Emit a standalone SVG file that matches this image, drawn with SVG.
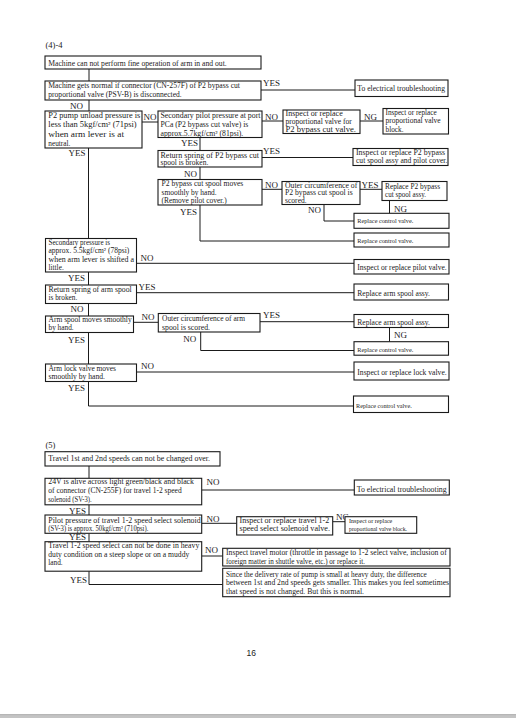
<svg xmlns="http://www.w3.org/2000/svg" width="516" height="718" viewBox="0 0 516 718">
<style>
  .bg{fill:#ffffff}
  .box{fill:#ffffff;stroke:#1a1a1a;stroke-width:1.1}
  .t{font-family:"Liberation Serif","Times New Roman",serif;font-size:7.3px;fill:#1a1a1a}
  .s{font-size:6.1px}
  .m{font-size:6.6px}
  .lbl{font-family:"Liberation Serif","Times New Roman",serif;font-size:9px;fill:#1a1a1a}
  .hd{font-family:"Liberation Serif","Times New Roman",serif;font-size:8.5px;fill:#1a1a1a}
  .pg{font-family:"Liberation Sans",Arial,sans-serif;font-size:8.5px;fill:#222}
  .ln{fill:none;stroke:#1a1a1a;stroke-width:1}
</style>
<rect class="bg" x="0" y="0" width="516" height="718"/>
<text class="hd" x="45.5" y="48">(4)-4</text>
<text class="hd" x="45.5" y="447.5">(5)</text>

<g id="connectors">
  <path class="ln" d="M89,69 V81"/>
  <path class="ln" d="M261,90 H355"/>
  <path class="ln" d="M89,100 V111"/>
  <path class="ln" d="M142,122 H158"/>
  <path class="ln" d="M262,121 H283"/>
  <path class="ln" d="M360,121 H383"/>
  <path class="ln" d="M200,137.5 V150.5"/>
  <path class="ln" d="M262,157.5 H353"/>
  <path class="ln" d="M200,167 V179.5"/>
  <path class="ln" d="M262,189.3 H282"/>
  <path class="ln" d="M360,189.3 H382"/>
  <path class="ln" d="M389.5,200.5 V213.3"/>
  <path class="ln" d="M324,204.5 V221 H354"/>
  <path class="ln" d="M200,205 V241 H354"/>
  <path class="ln" d="M88.5,148 V238.5"/>
  <path class="ln" d="M136.5,263.3 H354"/>
  <path class="ln" d="M88.5,272 V285"/>
  <path class="ln" d="M136.5,292.7 H354"/>
  <path class="ln" d="M88.5,303.5 V316"/>
  <path class="ln" d="M133.5,322.3 H158.3"/>
  <path class="ln" d="M260,321.7 H354"/>
  <path class="ln" d="M389.5,327.5 V341.7"/>
  <path class="ln" d="M200.7,332 V350.5 H354"/>
  <path class="ln" d="M88.5,332.5 V364"/>
  <path class="ln" d="M136.5,372 H354"/>
  <path class="ln" d="M88.5,381.5 V406 H353.5"/>

  <path class="ln" d="M89,466 V478.3"/>
  <path class="ln" d="M201.7,490 H354.3"/>
  <path class="ln" d="M89,504.8 V515"/>
  <path class="ln" d="M201.7,523.3 H236.7"/>
  <path class="ln" d="M332.7,521.7 H345"/>
  <path class="ln" d="M89,533.3 V541.7"/>
  <path class="ln" d="M201.7,556 H222.7"/>
  <path class="ln" d="M89,571.2 V584.5 H222.7"/>
</g>

<g id="labels">
  <text class="lbl" x="263" y="86">YES</text>
  <text class="lbl" x="70" y="108.5">NO</text>
  <text class="lbl" x="143.5" y="120">NO</text>
  <text class="lbl" x="265" y="119.5">NO</text>
  <text class="lbl" x="364" y="119.5">NG</text>
  <text class="lbl" x="181" y="146">YES</text>
  <text class="lbl" x="68.5" y="155.5">YES</text>
  <text class="lbl" x="263" y="153.5">YES</text>
  <text class="lbl" x="184" y="176.5">NO</text>
  <text class="lbl" x="265" y="187.8">NO</text>
  <text class="lbl" x="361.5" y="187.5">YES</text>
  <text class="lbl" x="394" y="211.5">NG</text>
  <text class="lbl" x="308" y="212.5">NO</text>
  <text class="lbl" x="180" y="215">YES</text>
  <text class="lbl" x="140.5" y="260.5">NO</text>
  <text class="lbl" x="68" y="281">YES</text>
  <text class="lbl" x="138.5" y="290">YES</text>
  <text class="lbl" x="70.5" y="312">NO</text>
  <text class="lbl" x="141.5" y="320">NO</text>
  <text class="lbl" x="263" y="318.3">YES</text>
  <text class="lbl" x="394" y="338.3">NG</text>
  <text class="lbl" x="183.3" y="341.7">NO</text>
  <text class="lbl" x="68" y="342.5">YES</text>
  <text class="lbl" x="141" y="369.3">NO</text>
  <text class="lbl" x="68" y="391">YES</text>

  <text class="lbl" x="206.5" y="484.5">NO</text>
  <text class="lbl" x="69" y="514">YES</text>
  <text class="lbl" x="206.5" y="521.5">NO</text>
  <text class="lbl" x="336" y="520">NG</text>
  <text class="lbl" x="69" y="540">YES</text>
  <text class="lbl" x="205" y="553">NO</text>
  <text class="lbl" x="70" y="583.3">YES</text>
</g>

<g id="b1"><rect class="box" x="45" y="56" width="216" height="13"/>
  <text class="t" x="48.3" y="65.5" textLength="178.4" lengthAdjust="spacingAndGlyphs">Machine can not perform fine operation of arm in and out.</text></g>
<g id="b2"><rect class="box" x="45" y="81" width="216" height="19"/>
  <text class="t" x="48.3" y="88" textLength="191.7" lengthAdjust="spacingAndGlyphs">Machine gets normal if connector (CN-257F) of P2 bypass cut</text>
  <text class="t" x="48.3" y="97.3" textLength="133.4" lengthAdjust="spacingAndGlyphs">proportional valve (PSV-B) is disconnected.</text></g>
<g id="e1"><rect class="box" x="355" y="80" width="93" height="16.5"/>
  <text class="t" x="357.3" y="91" textLength="87.7" lengthAdjust="spacingAndGlyphs">To electrical  troubleshooting</text></g>
<g id="b3"><rect class="box" x="45" y="111" width="97" height="37"/>
  <text class="t" x="48.3" y="118" textLength="92" lengthAdjust="spacingAndGlyphs">P2 pump unload pressure is</text>
  <text class="t" x="48.3" y="127.3" textLength="88.4" lengthAdjust="spacingAndGlyphs">less than 5kgf/cm² (71psi)</text>
  <text class="t" x="48.3" y="136.6" textLength="75.7" lengthAdjust="spacingAndGlyphs">when arm lever is at</text>
  <text class="t" x="48.3" y="145.5">neutral.</text></g>
<g id="b4"><rect class="box" x="158" y="111" width="104" height="26.5"/>
  <text class="t" x="160.5" y="118" textLength="100" lengthAdjust="spacingAndGlyphs">Secondary pilot pressure at port</text>
  <text class="t" x="160.5" y="127" textLength="87.8" lengthAdjust="spacingAndGlyphs">PCa (P2 bypass cut valve) is</text>
  <text class="t" x="160.5" y="136" textLength="82.8" lengthAdjust="spacingAndGlyphs">approx.5.7kgf/cm² (81psi).</text></g>
<g id="b5"><rect class="box" x="283" y="110" width="77" height="23.5"/>
  <text class="t" x="285.5" y="116" textLength="57.2" lengthAdjust="spacingAndGlyphs">Inspect or replace</text>
  <text class="t" x="285.5" y="124" textLength="66.2" lengthAdjust="spacingAndGlyphs">proportional valve for</text>
  <text class="t" x="285.5" y="131.8" textLength="70.5" lengthAdjust="spacingAndGlyphs">P2 bypass cut valve.</text></g>
<g id="b6"><rect class="box" x="383" y="108.5" width="65.5" height="25.5"/>
  <text class="t" x="385.5" y="114.5" textLength="51.2" lengthAdjust="spacingAndGlyphs">Inspect or replace</text>
  <text class="t" x="385.5" y="123.3" textLength="55.2" lengthAdjust="spacingAndGlyphs">proportional valve</text>
  <text class="t" x="385.5" y="131.7">block.</text></g>
<g id="b7"><rect class="box" x="158" y="150.5" width="104" height="16.5"/>
  <text class="t" x="160.5" y="157.5" textLength="98.5" lengthAdjust="spacingAndGlyphs">Return spring of P2 bypass cut</text>
  <text class="t" x="160.5" y="165.3" textLength="47.8" lengthAdjust="spacingAndGlyphs">spool is broken.</text></g>
<g id="b8"><rect class="box" x="353" y="148.5" width="95" height="17"/>
  <text class="t" x="356" y="155.3" textLength="89" lengthAdjust="spacingAndGlyphs">Inspect or replace P2 bypass</text>
  <text class="t" x="356" y="163" textLength="91.3" lengthAdjust="spacingAndGlyphs">cut spool assy and pilot cover.</text></g>
<g id="b9"><rect class="box" x="158" y="179.5" width="104" height="25.5"/>
  <text class="t" x="161.5" y="186" textLength="81.8" lengthAdjust="spacingAndGlyphs">P2 bypass cut spool moves</text>
  <text class="t" x="161.5" y="195" textLength="55.2" lengthAdjust="spacingAndGlyphs">smoothly by hand.</text>
  <text class="t" x="161.5" y="203.3" textLength="65.2" lengthAdjust="spacingAndGlyphs">(Remove pilot cover.)</text></g>
<g id="b10"><rect class="box" x="282" y="181.5" width="78" height="23"/>
  <text class="t" x="285" y="187.5" textLength="72.3" lengthAdjust="spacingAndGlyphs">Outer circumference of</text>
  <text class="t" x="285" y="195.2" textLength="67.7" lengthAdjust="spacingAndGlyphs">P2 bypass cut spool is</text>
  <text class="t" x="285" y="202.8" textLength="21.7" lengthAdjust="spacingAndGlyphs">scored.</text></g>
<g id="b11"><rect class="box" x="382" y="181.5" width="65" height="19"/>
  <text class="t" x="385" y="189" textLength="55" lengthAdjust="spacingAndGlyphs">Replace P2 bypass</text>
  <text class="t" x="385" y="197" textLength="41" lengthAdjust="spacingAndGlyphs">cut spool assy.</text></g>
<g id="b12"><rect class="box" x="354" y="213.3" width="95" height="15"/>
  <text class="t m" x="357.3" y="223.3" textLength="56" lengthAdjust="spacingAndGlyphs">Replace control valve.</text></g>
<g id="b13"><rect class="box" x="354" y="233" width="95" height="14"/>
  <text class="t m" x="357.3" y="243.2" textLength="56" lengthAdjust="spacingAndGlyphs">Replace control valve.</text></g>
<g id="b14"><rect class="box" x="45.5" y="238.5" width="91" height="33.5"/>
  <text class="t" x="48.5" y="244.8" textLength="61.5" lengthAdjust="spacingAndGlyphs">Secondary pressure is</text>
  <text class="t" x="48.5" y="253.3" textLength="80.8" lengthAdjust="spacingAndGlyphs">approx. 5.5kgf/cm² (78psi)</text>
  <text class="t" x="48.5" y="261.8" textLength="85.5" lengthAdjust="spacingAndGlyphs">when arm lever is shifted a</text>
  <text class="t" x="48.5" y="270.2">little.</text></g>
<g id="b15"><rect class="box" x="354" y="259.5" width="95" height="14.5"/>
  <text class="t" x="357.3" y="270" textLength="89.4" lengthAdjust="spacingAndGlyphs">Inspect or replace pilot valve.</text></g>
<g id="b16"><rect class="box" x="45.5" y="285" width="91" height="18.5"/>
  <text class="t" x="48.5" y="291.8" textLength="83.2" lengthAdjust="spacingAndGlyphs">Return spring of arm spool</text>
  <text class="t" x="48.5" y="300.2">is broken.</text></g>
<g id="b17"><rect class="box" x="354" y="284" width="94.5" height="16"/>
  <text class="t" x="357.3" y="296" textLength="72.7" lengthAdjust="spacingAndGlyphs">Replace arm spool assy.</text></g>
<g id="b18"><rect class="box" x="45.5" y="316" width="88" height="16.5"/>
  <text class="t" x="48.5" y="322" textLength="83.2" lengthAdjust="spacingAndGlyphs">Arm spool moves smoothly</text>
  <text class="t" x="48.5" y="330.2">by hand.</text></g>
<g id="b19"><rect class="box" x="158.3" y="313.5" width="101.7" height="18.5"/>
  <text class="t" x="162" y="321" textLength="83" lengthAdjust="spacingAndGlyphs">Outer circumference of arm</text>
  <text class="t" x="162" y="329.5" textLength="48" lengthAdjust="spacingAndGlyphs">spool is scored.</text></g>
<g id="b20"><rect class="box" x="354" y="314.5" width="94.5" height="13"/>
  <text class="t" x="357.3" y="324.5" textLength="72.7" lengthAdjust="spacingAndGlyphs">Replace arm spool assy.</text></g>
<g id="b21"><rect class="box" x="354" y="341.7" width="94.5" height="13.5"/>
  <text class="t m" x="357.3" y="351.7" textLength="56" lengthAdjust="spacingAndGlyphs">Replace control valve.</text></g>
<g id="b22"><rect class="box" x="45.5" y="364" width="91" height="17.5"/>
  <text class="t" x="48.5" y="370.7" textLength="67.5" lengthAdjust="spacingAndGlyphs">Arm lock valve moves</text>
  <text class="t" x="48.5" y="379.3" textLength="56.5" lengthAdjust="spacingAndGlyphs">smoothly by hand.</text></g>
<g id="b23"><rect class="box" x="354" y="362" width="95" height="18"/>
  <text class="t" x="357.3" y="375" textLength="89.4" lengthAdjust="spacingAndGlyphs">Inspect or replace lock valve.</text></g>
<g id="b24"><rect class="box" x="353.5" y="396" width="95" height="16.5"/>
  <text class="t m" x="356" y="408.3" textLength="55.7" lengthAdjust="spacingAndGlyphs">Replace control valve.</text></g>

<g id="c1"><rect class="box" x="45" y="451.7" width="175" height="14.3"/>
  <text class="t" x="48.3" y="460.7" textLength="161.7" lengthAdjust="spacingAndGlyphs">Travel 1st and 2nd speeds can not be changed over.</text></g>
<g id="c2"><rect class="box" x="45" y="478.3" width="156.7" height="26.5"/>
  <text class="t" x="48.3" y="484.3" textLength="145.7" lengthAdjust="spacingAndGlyphs">24V is alive across light green/black and black</text>
  <text class="t" x="48.3" y="493" textLength="133.4" lengthAdjust="spacingAndGlyphs">of connector (CN-255F) for travel 1-2 speed</text>
  <text class="t" x="48.3" y="501.6" textLength="43.4" lengthAdjust="spacingAndGlyphs">solenoid (SV-3).</text></g>
<g id="c3"><rect class="box" x="354.3" y="480" width="95" height="15"/>
  <text class="t" x="356.7" y="491.5" textLength="90" lengthAdjust="spacingAndGlyphs">To electrical  troubleshooting</text></g>
<g id="c4"><rect class="box" x="45" y="515" width="156.7" height="18.3"/>
  <text class="t" x="48.3" y="522.7" textLength="152.4" lengthAdjust="spacingAndGlyphs">Pilot pressure of travel 1-2 speed select solenoid</text>
  <text class="t" x="48.3" y="530.8" textLength="100" lengthAdjust="spacingAndGlyphs">(SV-3) is approx. 50kgf/cm² (710psi).</text></g>
<g id="c5"><rect class="box" x="236.7" y="516.7" width="96" height="18.3"/>
  <text class="t" x="239.5" y="523.3" textLength="89.8" lengthAdjust="spacingAndGlyphs">Inspect or replace travel 1-2</text>
  <text class="t" x="239.5" y="531.3" textLength="90.5" lengthAdjust="spacingAndGlyphs">speed select solenoid valve.</text></g>
<g id="c6"><rect class="box" x="345" y="516.7" width="71.7" height="16.6"/>
  <text class="t s" x="349" y="523.3">Inspect or replace</text>
  <text class="t s" x="349" y="531.2" textLength="58" lengthAdjust="spacingAndGlyphs">proportional valve block.</text></g>
<g id="c7"><rect class="box" x="45" y="541.7" width="156.7" height="29.5"/>
  <text class="t" x="48.3" y="548.3" textLength="151" lengthAdjust="spacingAndGlyphs">Travel 1-2 speed select can not be done in heavy</text>
  <text class="t" x="48.3" y="556.8" textLength="141" lengthAdjust="spacingAndGlyphs">duty condition on a steep slope or on a muddy</text>
  <text class="t" x="48.3" y="565.3">land.</text></g>
<g id="c8"><rect class="box" x="222.7" y="548.3" width="227.3" height="17.7"/>
  <text class="t" x="226" y="555.2" textLength="220.7" lengthAdjust="spacingAndGlyphs">Inspect travel motor (throttle in passage to 1-2 select valve, inclusion of</text>
  <text class="t" x="226" y="563.5" textLength="139" lengthAdjust="spacingAndGlyphs">foreign matter in shuttle valve, etc.) or replace it.</text></g>
<g id="c9"><rect class="box" x="222.7" y="568.3" width="227.3" height="28.4"/>
  <text class="t" x="226" y="576.5" textLength="200.7" lengthAdjust="spacingAndGlyphs">Since the delivery rate of pump is small at heavy duty, the difference</text>
  <text class="t" x="226" y="585" textLength="223" lengthAdjust="spacingAndGlyphs">between 1st and 2nd speeds gets smaller. This makes you feel sometimes</text>
  <text class="t" x="226" y="593.5" textLength="138" lengthAdjust="spacingAndGlyphs">that speed is not changed. But this is normal.</text></g>

<text class="pg" x="246.5" y="655.5">16</text>
<rect x="0" y="714.3" width="516" height="3.7" fill="#c4c4c4"/>
<rect x="0" y="714.3" width="516" height="0.8" fill="#a8a8a8"/>
</svg>
